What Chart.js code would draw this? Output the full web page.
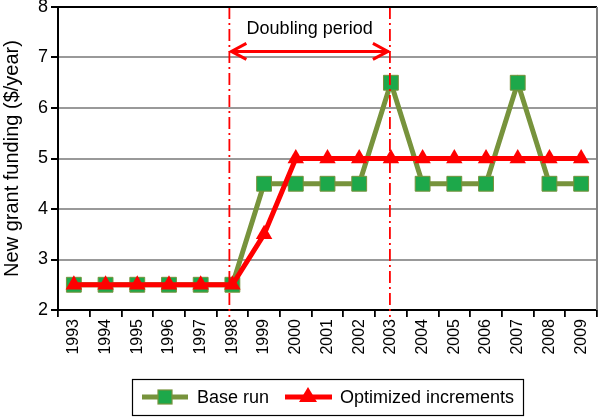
<!DOCTYPE html>
<html>
<head>
<meta charset="utf-8">
<script src="https://cdn.jsdelivr.net/npm/chart.js@4"></script>
<style>
  html, body { margin: 0; padding: 0; background: #fff; }
  #wrap { width: 600px; height: 417px; position: relative; }
</style>
</head>
<body>
<div id="wrap"><canvas id="chart"></canvas></div>
<script>
// data
let years = ['1993', '1994', '1995', '1996', '1997', '1998', '1999', '2000', '2001',
             '2002', '2003', '2004', '2005', '2006', '2007', '2008', '2009']
let baseRun = [2.5, 2.5, 2.5, 2.5, 2.5, 2.5, 4.5, 4.5, 4.5, 4.5, 6.5, 4.5, 4.5, 4.5, 6.5, 4.5, 4.5]
let optimized = [2.5, 2.5, 2.5, 2.5, 2.5, 2.5, 3.5, 5, 5, 5, 5, 5, 5, 5, 5, 5, 5]
let doublingStart = '1998'
let doublingEnd = '2003'
let arrowLevel = 7.12
let yTicks = [2, 3, 4, 5, 6, 7, 8]

const OLIVE = '#77933C'
const GREEN = '#1DA84A'
const RED = '#FF0000'
const FONT = '"Liberation Sans", Arial, sans-serif'

// vertical dash-dot lines, arrow and label, frame
let annotations = {
    id: 'annotations',
    afterDatasetsDraw(chart) {
        let ctx = chart.ctx
        let area = chart.chartArea
        let x = chart.scales.x
        let y = chart.scales.y
        let x1 = x.getPixelForValue(years.indexOf(doublingStart)) - 3
        let x2 = x.getPixelForValue(years.indexOf(doublingEnd)) - 1
        ctx.save()
        ctx.strokeStyle = RED
        ctx.lineWidth = 1.8
        ctx.setLineDash([12, 4, 2, 4])
        ;[x1, x2].forEach(px => {
            ctx.beginPath()
            ctx.moveTo(px, area.top)
            ctx.lineTo(px, area.bottom + 7)
            ctx.stroke()
        })
        ctx.setLineDash([])

        // double-headed arrow
        let ay = y.getPixelForValue(arrowLevel)
        ctx.lineWidth = 3
        ctx.beginPath()
        ctx.moveTo(x1 + 1, ay)
        ctx.lineTo(x2 - 1, ay)
        ctx.moveTo(x1 + 17, ay - 8)
        ctx.lineTo(x1 + 2, ay)
        ctx.lineTo(x1 + 17, ay + 8)
        ctx.moveTo(x2 - 17, ay - 8)
        ctx.lineTo(x2 - 2, ay)
        ctx.lineTo(x2 - 17, ay + 8)
        ctx.stroke()

        ctx.fillStyle = '#000'
        ctx.font = '18px ' + FONT
        ctx.textAlign = 'center'
        ctx.textBaseline = 'middle'
        ctx.fillText('Doubling period', (x1 + x2) / 2, 29)

        // frame: black top, grey right
        ctx.lineWidth = 2
        ctx.strokeStyle = '#000'
        ctx.beginPath()
        ctx.moveTo(area.left, area.top)
        ctx.lineTo(area.right, area.top)
        ctx.stroke()
        ctx.strokeStyle = '#808080'
        ctx.beginPath()
        ctx.moveTo(area.right, area.top)
        ctx.lineTo(area.right, area.bottom)
        ctx.stroke()
        ctx.restore()
    },
    afterDraw(chart) {
        // legend box at the bottom
        let ctx = chart.ctx
        ctx.save()
        ctx.strokeStyle = '#000'
        ctx.lineWidth = 1.2
        ctx.strokeRect(132.5, 379.5, 391, 36)
        let cy = 397
        ctx.lineWidth = 5
        ctx.strokeStyle = OLIVE
        ctx.beginPath(); ctx.moveTo(142, cy); ctx.lineTo(188, cy); ctx.stroke()
        ctx.fillStyle = GREEN
        ctx.fillRect(158, cy - 7, 14, 14)
        ctx.lineWidth = 1.2
        ctx.strokeRect(158, cy - 7, 14, 14)
        ctx.lineWidth = 5
        ctx.strokeStyle = RED
        ctx.beginPath(); ctx.moveTo(285, cy); ctx.lineTo(332, cy); ctx.stroke()
        ctx.fillStyle = RED
        ctx.beginPath()
        ctx.moveTo(308, cy - 10); ctx.lineTo(317, cy + 5); ctx.lineTo(299, cy + 5)
        ctx.closePath(); ctx.fill()
        ctx.fillStyle = '#000'
        ctx.font = '18px ' + FONT
        ctx.textBaseline = 'middle'
        ctx.fillText('Base run', 197, cy + 1)
        ctx.fillText('Optimized increments', 340, cy + 1)
        ctx.restore()
    }
}

new Chart(document.getElementById('chart'), {
    type: 'line',
    data: {
        labels: years,
        datasets: [{
            label: 'Base run',
            data: baseRun,
            borderColor: OLIVE,
            borderWidth: 5,
            pointStyle: 'rect',
            pointRadius: 10.5,
            pointBackgroundColor: GREEN,
            pointBorderColor: OLIVE,
            pointBorderWidth: 1,
            order: 2
        }, {
            label: 'Optimized increments',
            data: optimized,
            borderColor: RED,
            borderWidth: 5,
            pointStyle: 'triangle',
            pointRadius: 9.5,
            pointBackgroundColor: RED,
            pointBorderColor: RED,
            pointBorderWidth: 0,
            order: 1
        }]
    },
    options: {
        responsive: true,
        maintainAspectRatio: false,
        animation: false,
        layout: { autoPadding: false, padding: { top: 7, right: 3, bottom: 49, left: 0 } },
        scales: {
            x: {
                offset: true,
                grid: { display: true, drawOnChartArea: false, offset: true, tickLength: 7, color: '#000', lineWidth: 1.8 },
                border: { color: '#000', width: 2 },
                ticks: {
                    color: '#000',
                    font: { family: FONT, size: 16 },
                    maxRotation: 90, minRotation: 90,
                    autoSkip: false,
                    padding: 2
                },
                afterFit(scale) {
                    scale.height = 58
                    scale.paddingLeft = 0
                    scale.paddingRight = 0
                }
            },
            y: {
                min: 2, max: 8,
                afterBuildTicks(scale) { scale.ticks = yTicks.map(v => ({ value: v })) },
                grid: { color: '#999999', lineWidth: 2, tickLength: 7, tickColor: '#000' },
                border: { color: '#000', width: 2 },
                ticks: { color: '#000', font: { family: FONT, size: 18 }, padding: 3 },
                title: {
                    display: true,
                    text: 'New grant funding ($/year)',
                    color: '#000',
                    font: { family: FONT, size: 20 },
                    padding: { top: 0, bottom: 0 }
                },
                afterFit(scale) {
                    scale.width = 58
                    scale.paddingTop = 0
                    scale.paddingBottom = 0
                }
            }
        },
        plugins: {
            legend: { display: false },
            tooltip: { enabled: false }
        }
    },
    plugins: [annotations]
})
</script>
</body>
</html>
